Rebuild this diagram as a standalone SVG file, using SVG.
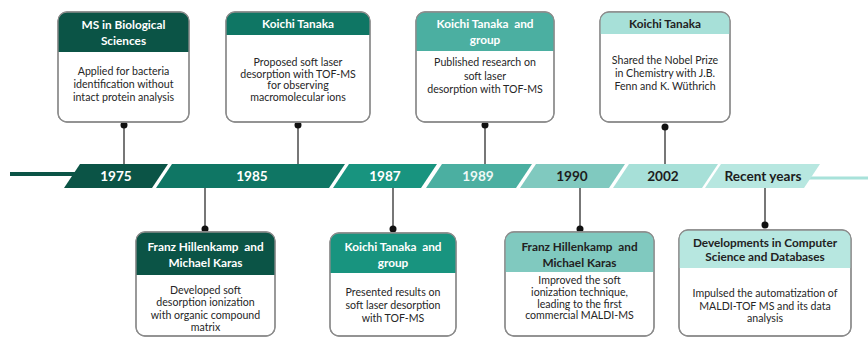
<svg xmlns="http://www.w3.org/2000/svg" width="868" height="338" viewBox="0 0 868 338">
  <style>
    .card { fill: #ffffff; stroke: #8c8c8c; stroke-width: 1.3; }
    .hd { font-family: Lato, "Open Sans", sans-serif; font-weight: bold; font-size: 11.8px; text-anchor: middle; }
    .hw { fill: #ffffff; }
    .hk { fill: #222222; }
    .bd { font-family: Lato, "Open Sans", sans-serif; font-size: 10.6px; fill: #262626; text-anchor: middle; }
    .yr { font-family: Lato, "Open Sans", sans-serif; font-weight: bold; font-size: 13.6px; text-anchor: middle; }
    .stem { stroke: #555555; stroke-width: 1.6; }
    .dot { fill: #111111; }
  </style>
  <defs>
    <clipPath id="c1"><rect x="58" y="12" width="131" height="110" rx="9"/></clipPath>
    <clipPath id="c2"><rect x="226" y="12" width="144" height="110" rx="9"/></clipPath>
    <clipPath id="c3"><rect x="416" y="12" width="138" height="110" rx="9"/></clipPath>
    <clipPath id="c4"><rect x="600" y="12" width="130" height="110" rx="9"/></clipPath>
    <clipPath id="c5"><rect x="136" y="232" width="139" height="104" rx="9"/></clipPath>
    <clipPath id="c6"><rect x="330" y="233" width="126" height="103" rx="9"/></clipPath>
    <clipPath id="c7"><rect x="505" y="232" width="149" height="104" rx="9"/></clipPath>
    <clipPath id="c8"><rect x="679" y="230" width="172" height="106" rx="9"/></clipPath>
  </defs>

  <!-- timeline bar -->
  <g id="timeline">
    <rect x="10" y="172" width="68" height="4" fill="#0b5446"/>
    <rect x="800" y="176.5" width="68" height="3" fill="#a8e2da"/>
    <polygon points="64,188 80,164 168,164 152,188" fill="#0b5446"/>
    <polygon points="156,188 172,164 345,164 329,188" fill="#0f7664"/>
    <polygon points="333,188 349,164 437,164 421,188" fill="#18947f"/>
    <polygon points="426,188 442,164 532,164 516,188" fill="#4bafa1"/>
    <polygon points="520,188 536,164 625,164 609,188" fill="#80c9bf"/>
    <polygon points="613,188 629,164 718,164 702,188" fill="#a7e0d8"/>
    <polygon points="705,188 721,164 820,164 804,188" fill="#b7e7e0"/>
    <text class="yr" x="116" y="181" fill="#ffffff">1975</text>
    <text class="yr" x="252" y="181" fill="#ffffff">1985</text>
    <text class="yr" x="385" y="181" fill="#ffffff">1987</text>
    <text class="yr" x="478" y="181" fill="#eef8f6">1989</text>
    <text class="yr" x="572" y="181" fill="#1d1d1d">1990</text>
    <text class="yr" x="663" y="181" fill="#1d1d1d">2002</text>
    <text class="yr" x="763" y="181" fill="#1d1d1d">Recent years</text>
  </g>

  <!-- connectors between cards and the timeline -->
  <g id="connectors">
    <line class="stem" x1="124" y1="125" x2="124" y2="164"/>
    <line class="stem" x1="298" y1="125" x2="298" y2="164"/>
    <line class="stem" x1="485" y1="125" x2="485" y2="164"/>
    <line class="stem" x1="665" y1="127" x2="665" y2="164"/>
    <line class="stem" x1="205" y1="188" x2="205" y2="229"/>
    <line class="stem" x1="393" y1="188" x2="393" y2="229"/>
    <line class="stem" x1="580" y1="188" x2="580" y2="229"/>
    <line class="stem" x1="765" y1="188" x2="765" y2="225"/>
    <circle class="dot" cx="124" cy="125" r="3.5"/>
    <circle class="dot" cx="298" cy="125" r="3.5"/>
    <circle class="dot" cx="485" cy="125" r="3.5"/>
    <circle class="dot" cx="665" cy="127" r="3.5"/>
    <circle class="dot" cx="205" cy="229" r="3.5"/>
    <circle class="dot" cx="393" cy="229" r="3.5"/>
    <circle class="dot" cx="580" cy="229" r="3.5"/>
    <circle class="dot" cx="765" cy="225" r="3.5"/>
  </g>

  <!-- 1975 -->
  <g id="card-1975">
    <rect class="card" x="58" y="12" width="131" height="110" rx="9"/>
    <rect x="58" y="12" width="131" height="40" fill="#0b5446" clip-path="url(#c1)"/>
    <rect x="58" y="12" width="131" height="110" rx="9" fill="none" stroke="#8c8c8c" stroke-width="1.3"/>
    <text class="hd hw" x="123.5" y="29">MS in Biological</text>
    <text class="hd hw" x="123.5" y="45">Sciences</text>
    <text class="bd" x="123.5" y="75">Applied for bacteria</text>
    <text class="bd" x="123.5" y="88">identification without</text>
    <text class="bd" x="123.5" y="101">intact protein analysis</text>
  </g>

  <!-- 1985 -->
  <g id="card-1985">
    <rect class="card" x="226" y="12" width="144" height="110" rx="9"/>
    <rect x="226" y="12" width="144" height="23" fill="#0f7664" clip-path="url(#c2)"/>
    <rect x="226" y="12" width="144" height="110" rx="9" fill="none" stroke="#8c8c8c" stroke-width="1.3"/>
    <text class="hd hw" x="298" y="28">Koichi Tanaka</text>
    <text class="bd" x="298" y="66">Proposed soft laser</text>
    <text class="bd" x="298" y="77.5">desorption with TOF-MS</text>
    <text class="bd" x="298" y="89">for observing</text>
    <text class="bd" x="298" y="100.5">macromolecular ions</text>
  </g>

  <!-- 1989 -->
  <g id="card-1989">
    <rect class="card" x="416" y="12" width="138" height="110" rx="9"/>
    <rect x="416" y="12" width="138" height="39" fill="#4bafa1" clip-path="url(#c3)"/>
    <rect x="416" y="12" width="138" height="110" rx="9" fill="none" stroke="#8c8c8c" stroke-width="1.3"/>
    <text class="hd hw" x="485" y="28" xml:space="preserve">Koichi Tanaka  and</text>
    <text class="hd hw" x="485" y="44">group</text>
    <text class="bd" x="485" y="66">Published research on</text>
    <text class="bd" x="485" y="80">soft laser</text>
    <text class="bd" x="485" y="93">desorption with TOF-MS</text>
  </g>

  <!-- 2002 -->
  <g id="card-2002">
    <rect class="card" x="600" y="12" width="130" height="110" rx="9"/>
    <rect x="600" y="12" width="130" height="22" fill="#a7e0d8" clip-path="url(#c4)"/>
    <rect x="600" y="12" width="130" height="110" rx="9" fill="none" stroke="#8c8c8c" stroke-width="1.3"/>
    <text class="hd hk" x="665" y="28">Koichi Tanaka</text>
    <text class="bd" x="665" y="64">Shared the Nobel Prize</text>
    <text class="bd" x="665" y="77">in Chemistry with J.B.</text>
    <text class="bd" x="665" y="90">Fenn and K. Wüthrich</text>
  </g>

  <!-- 1985, lower -->
  <g id="card-hillenkamp-1985">
    <rect class="card" x="136" y="232" width="139" height="104" rx="9"/>
    <rect x="136" y="232" width="139" height="43" fill="#0b5446" clip-path="url(#c5)"/>
    <rect x="136" y="232" width="139" height="104" rx="9" fill="none" stroke="#8c8c8c" stroke-width="1.3"/>
    <text class="hd hw" x="205.5" y="251" xml:space="preserve">Franz Hillenkamp  and</text>
    <text class="hd hw" x="205.5" y="267">Michael Karas</text>
    <text class="bd" x="205.5" y="294">Developed soft</text>
    <text class="bd" x="205.5" y="306">desorption ionization</text>
    <text class="bd" x="205.5" y="319">with organic compound</text>
    <text class="bd" x="205.5" y="331">matrix</text>
  </g>

  <!-- 1987 -->
  <g id="card-1987">
    <rect class="card" x="330" y="233" width="126" height="103" rx="9"/>
    <rect x="330" y="233" width="126" height="40" fill="#18947f" clip-path="url(#c6)"/>
    <rect x="330" y="233" width="126" height="103" rx="9" fill="none" stroke="#8c8c8c" stroke-width="1.3"/>
    <text class="hd hw" x="393" y="251" xml:space="preserve">Koichi Tanaka  and</text>
    <text class="hd hw" x="393" y="267">group</text>
    <text class="bd" x="393" y="296">Presented results on</text>
    <text class="bd" x="393" y="309">soft laser desorption</text>
    <text class="bd" x="393" y="322">with TOF-MS</text>
  </g>

  <!-- 1990 -->
  <g id="card-1990">
    <rect class="card" x="505" y="232" width="149" height="104" rx="9"/>
    <rect x="505" y="232" width="149" height="40" fill="#80c9bf" clip-path="url(#c7)"/>
    <rect x="505" y="232" width="149" height="104" rx="9" fill="none" stroke="#8c8c8c" stroke-width="1.3"/>
    <text class="hd hk" x="579.5" y="251" xml:space="preserve">Franz Hillenkamp  and</text>
    <text class="hd hk" x="579.5" y="267">Michael Karas</text>
    <text class="bd" x="579.5" y="284">Improved the soft</text>
    <text class="bd" x="579.5" y="296">ionization technique,</text>
    <text class="bd" x="579.5" y="307.5">leading to the first</text>
    <text class="bd" x="579.5" y="319">commercial MALDI-MS</text>
  </g>

  <!-- recent years -->
  <g id="card-recent">
    <rect class="card" x="679" y="230" width="172" height="106" rx="9"/>
    <rect x="679" y="230" width="172" height="38" fill="#b7e7e0" clip-path="url(#c8)"/>
    <rect x="679" y="230" width="172" height="106" rx="9" fill="none" stroke="#8c8c8c" stroke-width="1.3"/>
    <text class="hd hk" x="765" y="247">Developments in Computer</text>
    <text class="hd hk" x="765" y="261">Science and Databases</text>
    <text class="bd" x="765" y="297">Impulsed the automatization of</text>
    <text class="bd" x="765" y="310">MALDI-TOF MS and its data</text>
    <text class="bd" x="765" y="322">analysis</text>
  </g>
</svg>
